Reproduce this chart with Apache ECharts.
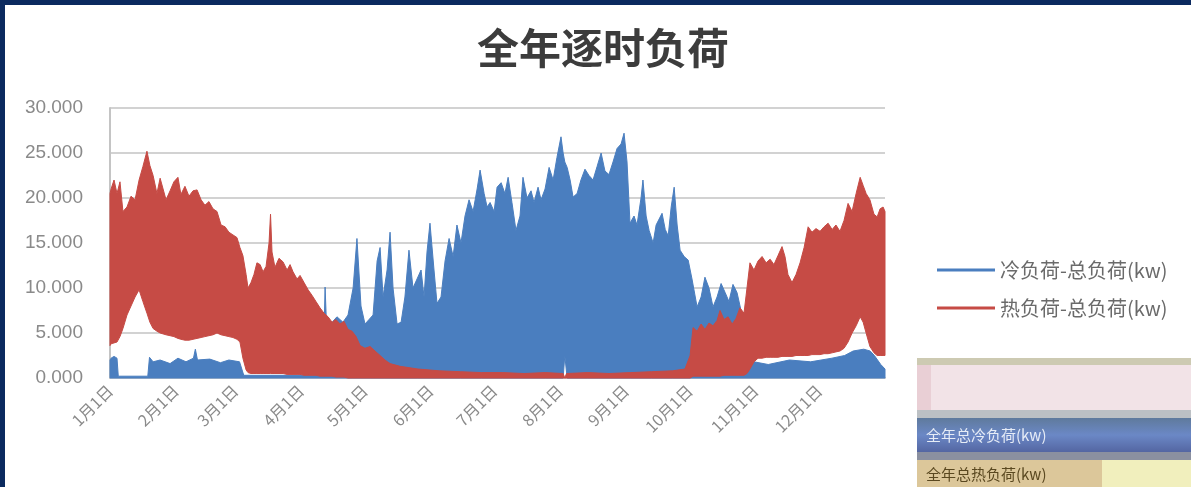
<!DOCTYPE html>
<html>
<head>
<meta charset="utf-8">
<script src="https://cdn.jsdelivr.net/npm/echarts@6/dist/echarts.min.js"></script>
<style>
html,body{margin:0;padding:0;background:#fff;}
#chart{width:1191px;height:487px;}
</style>
</head>
<body>
<div id="chart"></div>
<script>
// ---- data (day of year, load in thousands kW) ----
const monthStartDays = [0,31,59,90,120,151,181,212,243,273,304,334];
const tickLabels = ['1月1日','2月1日','3月1日','4月1日','5月1日','6月1日','7月1日','8月1日','9月1日','10月1日','11月1日','12月1日'];
const yTicks = [0,5,10,15,20,25,30];
const seriesNames = ['冷负荷-总负荷(kw)','热负荷-总负荷(kw)'];

// heating load: upper and lower envelope of the hourly curve
const redDays = [
  0,0.5,1.9,3.3,4.7,6.1,8.0,9.9,11.8,13.7,
  15.5,17.4,18.8,20.3,22.1,23.6,25.0,26.4,28.3,30.1,
  32.0,33.4,35.3,37.2,39.1,41.0,42.9,44.7,46.6,48.5,
  50.4,52.3,54.2,56.0,57.9,59.8,61.2,62.6,64.1,65.0,
  66.4,67.8,69.2,70.7,72.1,73.5,74.9,75.6,76.3,77.7,
  79.6,81.5,83.4,84.8,86.2,88.1,89.5,91.4,93.3,95.1,
  97.0,98.9,100.8,102.7,104.6,106.4,108.3,110.2,112.1,114.0,
  115.9,117.8,120.1,122.5,124.8,127.2,129.5,131.9,136.6,145,
  155,165,175,185,195,205,213.4,214.2,215,225,
  235,245,255,265,270.8,273.2,274.6,276.5,278.4,280.2,
  282.1,284.0,285.9,287.3,289.2,291.1,293.0,294.8,296.7,298.6,
  300.0,301.4,303.3,305.2,307.1,309.0,310.9,312.7,314.6,316.5,
  317.9,319.3,321.2,323.1,325.0,326.9,328.8,330.6,332.5,334.4,
  336.3,338.2,340.1,341.9,343.8,345.7,347.6,349.5,351.4,353.3,
  354.7,356.1,357.9,359.8,361.3,362.7,364.1,365
];
const redHigh = [
  20.5,21,22,20.5,21.8,18.5,19,20.2,19.8,22,
  23.5,25.2,23.6,22.5,20.5,22.2,21,19.8,20.8,21.8,
  22.3,20.4,21.3,20.2,20.8,20.9,19.8,19.2,19.6,18.8,
  18.5,17,16.8,16.2,15.9,15.6,14.5,13.6,11.5,10,
  10.6,11.5,12.8,12.6,11.8,12.4,15,18.2,14,12.3,
  13.3,12.9,12,12.6,11.8,11,11.4,10.6,9.8,9.2,
  8.5,7.8,7.2,6.8,6.2,6.5,6,6.3,5.4,5.2,
  4.6,3.6,3.3,3.5,3,2.5,2,1.6,1.3,1.0,
  0.8,0.7,0.6,0.6,0.5,0.6,0.5,0,0.5,0.6,
  0.5,0.6,0.7,0.8,1.0,2.5,5.6,5.2,6,5.4,
  6.1,5.8,6.4,7.5,6.5,6.8,6,6.6,7.8,7.2,
  10,12.8,12,13,13.5,12.8,13.2,12.6,13.6,14.6,
  13.5,11.5,10.6,11.5,12.8,14.5,16.8,16.2,16.6,16.3,
  16.8,17.2,16.5,17,16.3,17.5,19.4,18.5,20.5,22.3,
  21.4,20.5,19.8,18.2,17.9,18.8,19,18.5
];
const redLow = [
  3.6,3.8,3.9,4.0,4.6,5.5,7,8,9,9.8,
  8.5,7.2,6.2,5.5,5.2,5,4.9,4.8,4.7,4.6,
  4.4,4.3,4.2,4.2,4.3,4.4,4.5,4.6,4.7,4.8,
  5,4.8,4.7,4.6,4.5,4.3,4,2.2,0.9,0.6,
  0.5,0.5,0.5,0.5,0.5,0.5,0.5,0.5,0.5,0.5,
  0.5,0.5,0.4,0.4,0.4,0.4,0.4,0.3,0.3,0.3,
  0.3,0.2,0.2,0.2,0.2,0.1,0.1,0.1,0,0,
  0,0,0,0,0,0,0,0,0,0,
  0,0,0,0,0,0,0,0,0,0,
  0,0,0,0,0,0,0.2,0.2,0.2,0.2,
  0.2,0.2,0.2,0.2,0.3,0.3,0.3,0.3,0.3,0.3,
  0.5,1.0,1.8,2.2,2.2,2.3,2.3,2.3,2.3,2.4,
  2.4,2.4,2.4,2.5,2.5,2.5,2.5,2.6,2.6,2.6,
  2.7,2.7,2.8,2.9,3,3.3,4,5,5.8,6.8,
  6.2,5,3.5,2.8,2.5,2.5,2.5,2.5
];

// cooling load: upper envelope, and lower envelope (sparse)
const blueDays = [
  0,0.5,1.9,3.3,3.9,17.8,18.6,20.3,23.6,28.3,
  32.0,35.8,39.3,40.2,41.2,47,52,56,61,63,
  98.9,100.5,101.3,102.2,103.1,105,106.9,109.7,112.1,114.5,
  116.3,118.2,120.1,122,123.9,125.8,127.2,128.6,130.5,131.9,
  133.3,135.2,137.1,138.9,140.8,142.7,144.6,146.5,147.9,149.3,
  150.7,152.6,154,155.9,157.8,159.7,161.6,163.4,165.3,167.2,
  169.1,171,172.9,174.3,176.2,177.6,179,180.9,182.3,184.2,
  186,187.5,189.3,191.2,193.1,194.5,196.4,198.3,199.7,201.6,
  203,204.9,206.8,208.7,210.5,212.4,213.4,214.2,215.3,216.7,
  218.1,220,221.8,223.7,225.6,227.5,229.4,231.3,233.1,235,
  236.9,238.8,240.7,242.1,243.5,244.9,246.8,248.2,250.1,251,
  252.5,253.9,255.8,257.2,260,261.5,262.9,264.3,265.7,267.1,
  268.5,270.4,272.3,274.1,276.5,278.4,280.2,282.1,284,285.9,
  287.8,289.7,291.5,293.4,295.3,297.2,298.6,300,301.4,303.3,
  310,320,330,340,346,350,355,358,360,363,
  365
];
const blueHigh = [
  2.0,2.2,2.4,2.2,0.2,0.2,2.3,1.8,2.0,1.6,
  2.2,1.8,2.2,3.2,2.0,2.1,1.7,2.0,1.8,0.3,
  0.3,2,10.1,4.5,5,6.3,6.8,6.2,7,10,
  15.5,8,6,6.5,7,13,14.5,9,12,16.2,
  10,6,6.2,9,14.2,10,11,12,9,14,
  17.2,12,8.3,9,13,15.5,13.5,17,15,18,
  19.8,18.5,21,23.1,20.5,19,19.5,18.5,21.2,21.7,
  20.5,22.3,19.5,16.4,18,22.3,20,20.8,19.5,21.2,
  19.8,21,23.4,22,24.5,26.8,25,24,23.4,22,
  20.1,20.5,22,23.2,22.5,22,23.5,25,23,22.6,
  24,25.5,26,27.2,24,17.2,18,17,20,22,
  18,16.4,15,17,18.3,16.5,15.8,19,21.2,17,
  14.2,13.5,13.1,11,7.9,9,11.2,10,7.9,9,
  10.5,9.5,8.5,10.4,9.5,7.5,6,3,1.5,1.8,
  1.5,2.0,1.8,2.2,2.5,3,3.2,3,2.5,1.5,
  1.0
];
const blueLowDays = [0,213.4,214.2,215.3,365];
const blueLow = [0,0,2.5,0,0];

const BLUE = '#4a7ebf';
const RED = '#c64b45';

function bandRenderer(topDays, topVals, lowDays, lowVals, color) {
  return function (params, api) {
    if (params.dataIndex !== 0) return null;
    const pts = [];
    for (let i = 0; i < topDays.length; i++) pts.push(api.coord([topDays[i], topVals[i]]));
    for (let i = lowDays.length - 1; i >= 0; i--) pts.push(api.coord([lowDays[i], lowVals[i]]));
    return {
      type: 'polygon',
      shape: { points: pts },
      style: { fill: color, stroke: color, lineWidth: 1 }
    };
  };
}

const chart = echarts.init(document.getElementById('chart'), null, { renderer: 'canvas' });

const option = {
  animation: false,
  backgroundColor: '#ffffff',
  grid: { left: 110, right: 306, top: 108, bottom: 109, containLabel: false },
  xAxis: {
    type: 'value',
    min: 0,
    max: 365,
    axisLine: { show: true, lineStyle: { color: '#c8c8c8', width: 2 } },
    axisTick: { show: false },
    splitLine: { show: false },
    axisLabel: {
      customValues: monthStartDays,
      rotate: 45,
      margin: 10,
      color: '#8a8a8a',
      fontSize: 16,
      fontFamily: 'Noto Sans CJK SC',
      formatter: function (v) {
        const i = monthStartDays.indexOf(Math.round(v));
        return i >= 0 ? tickLabels[i] : '';
      }
    }
  },
  yAxis: {
    type: 'value',
    min: 0,
    max: 30,
    interval: 5,
    axisLine: { show: true, lineStyle: { color: '#c4c4c4', width: 2 } },
    axisTick: { show: false },
    splitLine: { show: true, lineStyle: { color: '#d2d2d2', width: 2 } },
    axisLabel: {
      margin: 27,
      color: '#8a8a8a',
      fontSize: 19,
      fontFamily: 'Liberation Sans',
      formatter: function (v) { return yTicks.indexOf(v) >= 0 ? v.toFixed(3) : ''; }
    }
  },
  legend: {
    orient: 'vertical',
    left: 932,
    top: 255,
    itemWidth: 58,
    itemHeight: 3,
    itemGap: 18,
    textStyle: { fontSize: 20, color: '#6a6a6a', fontFamily: 'Noto Sans CJK SC' },
    data: [
      { name: seriesNames[0], icon: 'rect' },
      { name: seriesNames[1], icon: 'rect' }
    ]
  },
  series: [
    {
      name: seriesNames[0],
      type: 'custom',
      itemStyle: { color: BLUE },
      encode: { x: 0, y: 1 },
      data: blueDays.map((d, i) => [d, blueHigh[i]]),
      renderItem: bandRenderer(blueDays, blueHigh, blueLowDays, blueLow, BLUE)
    },
    {
      name: seriesNames[1],
      type: 'custom',
      itemStyle: { color: RED },
      encode: { x: 0, y: 1 },
      data: redDays.map((d, i) => [d, redHigh[i]]),
      renderItem: bandRenderer(redDays, redHigh, redDays, redLow, RED)
    }
  ],
  graphic: [
    { type: 'text', x: 603, y: 48, style: { text: '全年逐时负荷', font: 'bold 42px "Noto Sans CJK SC"', fill: '#3c3c3c', textAlign: 'center', textVerticalAlign: 'middle' } },
    // spreadsheet fragment at lower right
    { type: 'rect', shape: { x: 917, y: 358, width: 274, height: 7 }, style: { fill: '#cdcab2' } },
    { type: 'rect', shape: { x: 917, y: 365, width: 274, height: 45 }, style: { fill: '#f2e3e7' } },
    { type: 'rect', shape: { x: 917, y: 365, width: 14, height: 45 }, style: { fill: '#e9cfd5' } },
    { type: 'rect', shape: { x: 917, y: 410, width: 274, height: 8 }, style: { fill: '#bcc0c4' } },
    { type: 'rect', shape: { x: 917, y: 418, width: 274, height: 34 }, style: { fill: new echarts.graphic.LinearGradient(0, 0, 0, 1, [{ offset: 0, color: '#5f7a9c' }, { offset: 0.5, color: '#6b88c6' }, { offset: 1, color: '#5466a2' }]) } },
    { type: 'rect', shape: { x: 917, y: 452, width: 274, height: 8 }, style: { fill: '#8b90a0' } },
    { type: 'rect', shape: { x: 917, y: 460, width: 185, height: 27 }, style: { fill: '#dcc79a' } },
    { type: 'rect', shape: { x: 1102, y: 460, width: 89, height: 27 }, style: { fill: '#f1efbd' } },
    { type: 'text', x: 926, y: 435, style: { text: '全年总冷负荷(kw)', font: '15px "Noto Sans CJK SC"', fill: '#e6ecf6', textVerticalAlign: 'middle' } },
    { type: 'text', x: 926, y: 474, style: { text: '全年总热负荷(kw)', font: '15px "Noto Sans CJK SC"', fill: '#5a4820', textVerticalAlign: 'middle' } },
    // frame
    { type: 'rect', shape: { x: 0, y: 0, width: 1191, height: 5 }, style: { fill: '#0b2a5f' }, z: 100 },
    { type: 'rect', shape: { x: 0, y: 0, width: 5, height: 487 }, style: { fill: '#0b2a5f' }, z: 100 }
  ]
};

chart.setOption(option);
</script>
</body>
</html>
